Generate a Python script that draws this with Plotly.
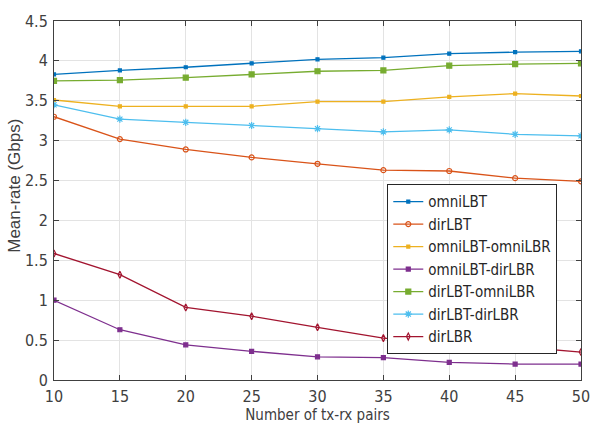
import plotly.graph_objects as go

pairs = [10, 15, 20, 25, 30, 35, 40, 45, 50]

omniLBT = [3.83, 3.88, 3.92, 3.97, 4.02, 4.04, 4.09, 4.11, 4.12]
dirLBT = [3.30, 3.02, 2.89, 2.79, 2.71, 2.63, 2.62, 2.53, 2.49]
omniLBT_omniLBR = [3.51, 3.43, 3.43, 3.43, 3.49, 3.49, 3.55, 3.59, 3.56]
omniLBT_dirLBR = [1.00, 0.63, 0.44, 0.36, 0.29, 0.28, 0.22, 0.20, 0.20]
dirLBT_omniLBR = [3.75, 3.76, 3.79, 3.83, 3.87, 3.88, 3.94, 3.96, 3.97]
dirLBT_dirLBR = [3.45, 3.27, 3.23, 3.19, 3.15, 3.11, 3.135, 3.08, 3.06]
dirLBR = [1.586, 1.32, 0.91, 0.80, 0.66, 0.525, 0.47, 0.42, 0.35]

series = [
    ("omniLBT", omniLBT, "#0072BD", "square", 3),
    ("dirLBT", dirLBT, "#D95319", "circle-open", 5),
    ("omniLBT-omniLBR", omniLBT_omniLBR, "#EDB120", "square", 3),
    ("omniLBT-dirLBR", omniLBT_dirLBR, "#7E2F8E", "square", 4),
    ("dirLBT-omniLBR", dirLBT_omniLBR, "#77AC30", "square", 5),
    ("dirLBT-dirLBR", dirLBT_dirLBR, "#4DBEEE", "asterisk-open", 6),
    ("dirLBR", dirLBR, "#A2142F", "diamond-tall-open", 5),
]

fig = go.Figure()
for name, vals, color, sym, size in series:
    fig.add_trace(go.Scatter(
        x=pairs, y=vals, name=name, mode="lines+markers",
        line=dict(color=color, width=1.3),
        marker=dict(symbol=sym, size=size, color=color,
                    line=dict(color=color, width=1.2)),
    ))

narrow = "DejaVu Sans Condensed, Liberation Sans Narrow, Liberation Sans, Arial, sans-serif"
axis_col = "#404040"

fig.update_layout(
    width=602, height=433,
    margin=dict(l=54, r=20, t=14, b=53),
    paper_bgcolor="white", plot_bgcolor="white",
    font=dict(family=narrow, size=16, color="#404040"),
    showlegend=True,
    legend=dict(
        x=0.955, y=0.545, xanchor="right", yanchor="top",
        bgcolor="white", bordercolor="#262626", borderwidth=1,
        font=dict(family=narrow, size=15, color="#262626"),
        tracegroupgap=0, itemwidth=30,
    ),
    annotations=[dict(
        text="Mean-rate (Gbps)", textangle=-90,
        xref="paper", yref="paper", x=-0.074, y=0.541,
        xanchor="center", yanchor="middle", showarrow=False,
        font=dict(family="Liberation Sans, Arial, sans-serif", size=17, color="#404040"),
    )],
)
fig.update_xaxes(
    range=[10, 50], tickvals=pairs, ticktext=[str(p) for p in pairs],
    showgrid=True, gridcolor="#e3e3e3", gridwidth=1,
    showline=True, linecolor=axis_col, linewidth=1, mirror="ticks",
    ticks="inside", ticklen=5, tickcolor=axis_col,
    ticklabelstandoff=2,
    zeroline=False,
    title=dict(text="Number of tx-rx pairs", standoff=2,
               font=dict(family=narrow, size=15, color="#404040")),
)
yticks = [0, 0.5, 1, 1.5, 2, 2.5, 3, 3.5, 4, 4.5]
fig.update_yaxes(
    range=[0, 4.5], tickvals=yticks, ticktext=[("%g" % v) for v in yticks],
    showgrid=True, gridcolor="#e3e3e3", gridwidth=1,
    showline=True, linecolor=axis_col, linewidth=1, mirror="ticks",
    ticks="inside", ticklen=5, tickcolor=axis_col,
    ticklabelstandoff=2,
    zeroline=False,
)

fig.write_html("out.html")
